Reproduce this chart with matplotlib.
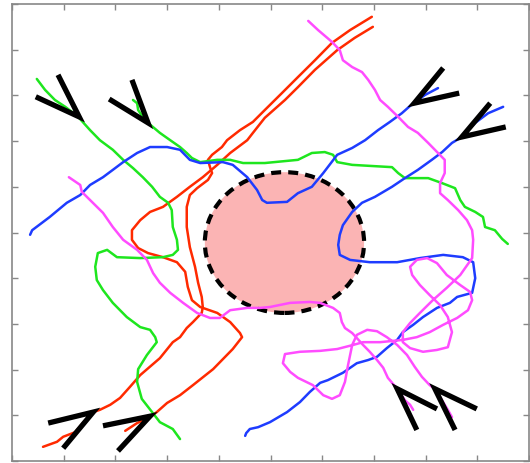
#!/usr/bin/env python3
"""Agent trajectories around a circular obstacle, with start chevrons."""

from __future__ import annotations

import matplotlib

matplotlib.use("Agg")
import matplotlib.pyplot as plt
import numpy as np
from matplotlib.patches import Circle

# --- trajectories (arena units, 0..10 on both axes) ---
red_a_x = [0.60, 0.87, 0.99, 1.22, 1.37, 1.47, 1.57, 1.70, 1.90, 2.09, 2.28, 2.48, 2.86, 3.11,
           3.25, 3.38, 3.50, 3.67, 3.69, 3.67, 3.60, 3.54, 3.44, 3.38, 3.38, 3.44, 3.58, 3.79,
           3.87, 3.83, 3.79, 3.87, 4.06, 4.16, 4.41, 4.66, 4.89, 5.22, 5.53, 5.86, 6.19, 6.54, 6.96]
red_a_y = [0.31, 0.42, 0.53, 0.63, 0.83, 0.94, 1.07, 1.12, 1.23, 1.38, 1.62, 1.88, 2.25, 2.60,
           2.71, 2.91, 3.04, 3.24, 3.37, 3.59, 3.90, 4.25, 4.68, 5.12, 5.56, 5.82, 5.97, 6.15,
           6.30, 6.43, 6.59, 6.70, 6.87, 7.02, 7.24, 7.42, 7.68, 8.05, 8.40, 8.77, 9.15, 9.43, 9.72]

red_b_x = [2.19, 2.42, 2.67, 2.80, 3.00, 3.25, 3.50, 3.89, 4.27, 4.45, 4.41, 4.22, 3.97, 3.64,
           3.48, 3.40, 3.35, 3.19, 2.92, 2.63, 2.44, 2.32, 2.32, 2.48, 2.67, 2.92, 3.19, 3.44,
           3.69, 3.97, 4.22, 4.55, 4.66, 4.89, 5.28, 5.53, 5.86, 6.29, 6.63, 6.98]
red_b_y = [0.66, 0.83, 0.96, 1.07, 1.27, 1.44, 1.66, 2.01, 2.45, 2.71, 2.80, 3.04, 3.24, 3.37,
           3.52, 3.81, 4.14, 4.35, 4.46, 4.55, 4.66, 4.84, 5.05, 5.27, 5.45, 5.56, 5.78, 6.00,
           6.21, 6.48, 6.74, 7.02, 7.18, 7.51, 7.90, 8.18, 8.56, 8.99, 9.26, 9.50]

green_a_x = [0.48, 0.64, 0.83, 1.03, 1.28, 1.51, 1.70, 1.95, 2.15, 2.34, 2.53, 2.71, 2.86, 3.02,
             3.09, 3.11, 3.19, 3.21, 3.11, 2.92, 2.48, 2.03, 1.84, 1.66, 1.61, 1.64, 1.76, 1.95,
             2.22, 2.48, 2.67, 2.77, 2.80, 2.61, 2.44, 2.42, 2.51, 2.71, 2.86, 3.11, 3.25]
green_a_y = [8.36, 8.12, 7.90, 7.75, 7.53, 7.24, 7.02, 6.81, 6.59, 6.41, 6.21, 6.00, 5.78, 5.65,
             5.49, 5.12, 4.84, 4.62, 4.51, 4.46, 4.44, 4.46, 4.62, 4.55, 4.25, 3.96, 3.74, 3.46,
             3.15, 2.93, 2.87, 2.71, 2.60, 2.32, 2.01, 1.73, 1.36, 1.07, 0.85, 0.70, 0.48]

green_b_x = [2.34, 2.42, 2.44, 2.53, 2.63, 2.86, 3.06, 3.25, 3.38, 3.48, 3.64, 3.97, 4.22, 4.47,
             4.89, 5.53, 5.80, 6.05, 6.21, 6.29, 6.58, 7.35, 7.47, 7.60, 8.05, 8.32, 8.57, 8.67,
             8.76, 8.96, 9.11, 9.15, 9.34, 9.48, 9.59]
green_b_y = [7.90, 7.83, 7.68, 7.53, 7.40, 7.18, 7.02, 6.87, 6.74, 6.63, 6.54, 6.59, 6.59, 6.52,
             6.52, 6.59, 6.74, 6.76, 6.70, 6.54, 6.48, 6.43, 6.30, 6.19, 6.19, 6.08, 5.97, 5.71,
             5.56, 5.45, 5.34, 5.12, 5.05, 4.86, 4.75]

blue_a_x = [0.35, 0.39, 0.73, 1.06, 1.32, 1.51, 1.76, 1.95, 2.15, 2.42, 2.67, 3.00, 3.25, 3.44,
            3.64, 4.08, 4.27, 4.55, 4.74, 4.84, 4.93, 5.32, 5.53, 5.80, 6.02, 6.29, 6.58, 6.83,
            7.08, 7.31, 7.54, 7.76, 7.99, 8.24]
blue_a_y = [4.95, 5.05, 5.34, 5.65, 5.82, 6.04, 6.21, 6.37, 6.54, 6.74, 6.87, 6.87, 6.81, 6.59,
            6.52, 6.54, 6.48, 6.21, 5.93, 5.71, 5.65, 5.67, 5.86, 6.00, 6.30, 6.70, 6.85, 7.02,
            7.24, 7.42, 7.61, 7.83, 8.01, 8.16]

blue_b_x = [9.50, 9.21, 8.96, 8.70, 8.51, 8.32, 8.12, 7.85, 7.60, 7.35, 7.02, 6.77, 6.58, 6.40,
            6.34, 6.31, 6.34, 6.54, 6.92, 7.45, 7.89, 8.34, 8.72, 8.92, 8.96, 8.90, 8.61, 8.47,
            8.22, 7.95, 7.76, 7.56, 7.45, 7.25, 7.06, 6.89, 6.67, 6.40, 6.11, 5.96, 5.76, 5.57,
            5.32, 4.99, 4.76, 4.60, 4.53, 4.51]
blue_b_y = [7.75, 7.61, 7.40, 7.09, 6.96, 6.76, 6.59, 6.37, 6.19, 6.00, 5.78, 5.65, 5.45, 5.16,
            4.95, 4.73, 4.51, 4.40, 4.35, 4.35, 4.44, 4.51, 4.46, 4.35, 4.00, 3.68, 3.59, 3.46,
            3.35, 3.15, 2.98, 2.82, 2.65, 2.47, 2.28, 2.21, 2.14, 1.93, 1.77, 1.71, 1.51, 1.29,
            1.07, 0.85, 0.74, 0.70, 0.61, 0.55]

magenta_a_x = [5.73, 5.92, 6.19, 6.34, 6.40, 6.58, 6.77, 6.89, 7.02, 7.12, 7.27, 7.47, 7.66,
               7.85, 8.05, 8.24, 8.37, 8.37, 8.28, 8.28, 8.43, 8.63, 8.80, 8.90, 8.92, 8.90,
               8.67, 8.41, 8.14, 7.89, 7.70, 7.56, 7.56, 7.70, 7.95, 8.22, 8.43, 8.51, 8.43,
               8.28, 8.08, 7.89, 7.74, 7.70, 7.83, 8.03, 8.22, 8.41, 8.67, 8.86, 8.90, 8.82,
               8.61, 8.34, 8.08, 7.83, 7.56, 7.12, 6.79, 6.60, 6.29, 5.96, 5.57, 5.28, 5.24,
               5.38, 5.53, 5.82, 6.02, 6.19, 6.34, 6.44, 6.50, 6.58, 6.67, 6.87, 7.06, 7.25,
               7.45, 7.64, 7.79, 7.93, 8.08, 8.18, 8.43, 8.51]
magenta_a_y = [9.63, 9.43, 9.17, 8.99, 8.77, 8.62, 8.51, 8.34, 8.12, 7.90, 7.75, 7.53, 7.31,
               7.18, 6.96, 6.74, 6.59, 6.30, 6.08, 5.86, 5.71, 5.49, 5.27, 5.05, 4.84, 4.44,
               4.07, 3.79, 3.52, 3.24, 3.02, 2.82, 2.60, 2.47, 2.39, 2.43, 2.49, 2.82, 3.15,
               3.41, 3.63, 3.85, 4.07, 4.25, 4.40, 4.44, 4.33, 4.07, 3.85, 3.70, 3.52, 3.30,
               3.13, 2.98, 2.82, 2.71, 2.65, 2.60, 2.60, 2.54, 2.45, 2.41, 2.39, 2.34, 2.14,
               1.95, 1.82, 1.66, 1.44, 1.36, 1.44, 1.73, 2.10, 2.54, 2.76, 2.87, 2.84, 2.71,
               2.54, 2.32, 2.06, 1.84, 1.66, 1.58, 1.12, 0.96]

magenta_b_x = [1.10, 1.32, 1.35, 1.51, 1.76, 1.95, 2.15, 2.42, 2.61, 2.73, 2.86, 3.06, 3.31,
               3.58, 3.83, 4.02, 4.22, 4.55, 4.80, 4.99, 5.38, 5.76, 5.96, 6.21, 6.34, 6.38,
               6.44, 6.58, 6.67, 6.79, 6.92, 7.06, 7.18, 7.27, 7.45, 7.60, 7.70, 7.76]
magenta_b_y = [6.21, 6.04, 5.89, 5.71, 5.43, 5.12, 4.84, 4.62, 4.40, 4.11, 3.90, 3.68, 3.46,
               3.24, 3.13, 3.13, 3.30, 3.35, 3.35, 3.37, 3.46, 3.48, 3.46, 3.35, 3.24, 3.04,
               2.91, 2.80, 2.69, 2.54, 2.39, 2.21, 2.04, 1.82, 1.58, 1.33, 1.23, 1.12]

# --- start chevrons: (arm end, tip, arm end) ---
chevron_x = [
    [0.89, 1.30, 0.46], [2.32, 2.63, 1.88],
    [8.34, 7.78, 8.65], [9.25, 8.70, 9.55],
    [0.70, 1.57, 0.99], [1.76, 2.67, 2.05],
    [8.22, 7.45, 7.83], [8.99, 8.18, 8.57],
]
chevron_y = [
    [8.45, 7.53, 7.97], [8.34, 7.40, 7.92],
    [8.60, 7.83, 8.05], [7.83, 7.09, 7.31],
    [0.83, 1.07, 0.28], [0.77, 0.98, 0.22],
    [1.14, 1.58, 0.68], [1.14, 1.58, 0.68],
]

# --- obstacle ---
obstacle_center = (5.27, 4.78)
obstacle_radius = 1.54

RED = "#ff2a00"
GREEN = "#1ee61e"
BLUE = "#1e3cff"
MAGENTA = "#ff4cff"


def main() -> None:
    fig = plt.figure(figsize=(5.30, 4.63), dpi=100)
    ax = fig.add_axes([12 / 530, 2 / 463, 517 / 530, 457 / 463])

    ax.add_patch(Circle(obstacle_center, obstacle_radius, facecolor="#fbb4b4",
                        edgecolor="black", linewidth=3.0, linestyle=(0, (2.4, 1.7)), zorder=1))

    tracks = [
        (red_a_x, red_a_y, RED), (red_b_x, red_b_y, RED),
        (green_a_x, green_a_y, GREEN), (green_b_x, green_b_y, GREEN),
        (blue_a_x, blue_a_y, BLUE), (blue_b_x, blue_b_y, BLUE),
        (magenta_a_x, magenta_a_y, MAGENTA), (magenta_b_x, magenta_b_y, MAGENTA),
    ]
    for xs, ys, color in tracks:
        ax.plot(xs, ys, color=color, linewidth=1.8, solid_joinstyle="round",
                solid_capstyle="round", zorder=2)

    for cx, cy in zip(chevron_x, chevron_y):
        ax.plot(cx, cy, color="black", linewidth=3.8, solid_joinstyle="miter",
                solid_capstyle="butt", zorder=3)

    ax.set_xlim(0, 10)
    ax.set_ylim(0, 10)
    ax.set_xticks(np.arange(0, 11, 1))
    ax.set_yticks(np.arange(0, 11, 1))
    ax.tick_params(direction="in", length=4, width=1.0, color="#888888",
                   top=True, right=True, labelbottom=False, labelleft=False)
    for spine in ax.spines.values():
        spine.set_color("#888888")
        spine.set_linewidth(1.2)

    fig.savefig("out.png", dpi=100)
    plt.close(fig)


if __name__ == "__main__":
    main()
